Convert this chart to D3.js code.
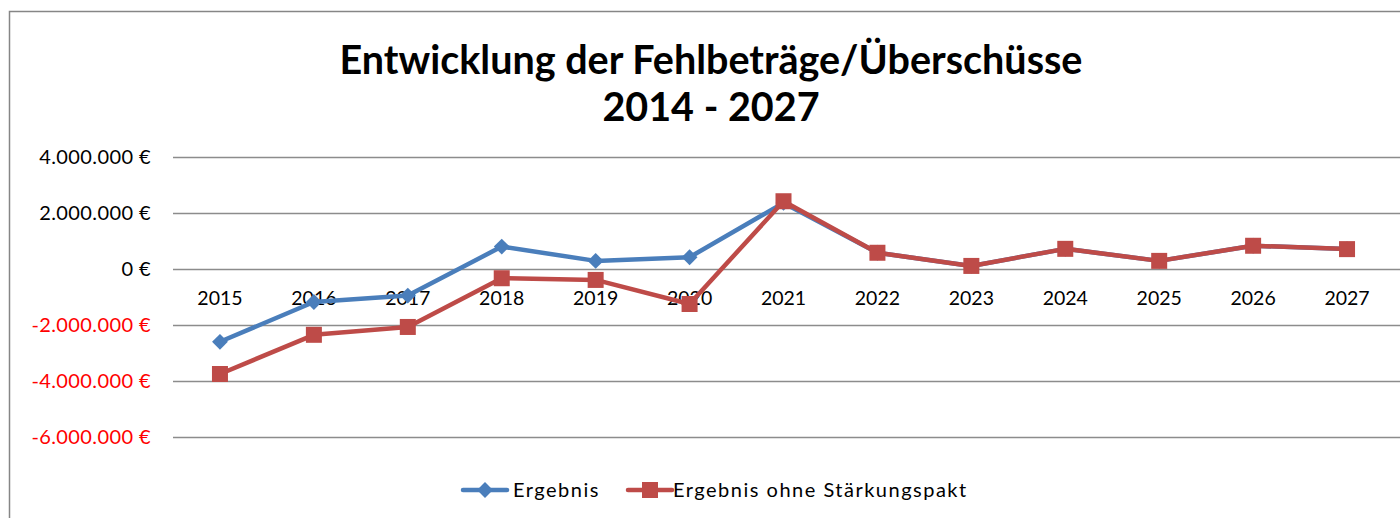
<!DOCTYPE html>
<html>
<head>
<meta charset="utf-8">
<script src="https://cdn.jsdelivr.net/npm/d3@7"></script>
<style>
  html, body { margin: 0; padding: 0; background: #fff; overflow: hidden; }
  svg { display: block; }
  text { font-family: Lato, "Open Sans", sans-serif; }
</style>
</head>
<body>
<div id="chart"></div>
<script>
// chart data
const years = ["2015", "2016", "2017", "2018", "2019", "2020", "2021", "2022", "2023", "2024", "2025", "2026", "2027"];
const ergebnis = [-2600000, -1180000, -950000, 800000, 290000, 420000, 2360000, 580000, 110000, 720000, 290000, 830000, 710000];
const ohneStaerkungspakt = [-3750000, -2350000, -2070000, -330000, -390000, -1250000, 2420000, 580000, 110000, 720000, 290000, 830000, 710000];
const yTicks = [-6000000, -4000000, -2000000, 0, 2000000, 4000000];
const seriesNames = ["Ergebnis", "Ergebnis ohne Stärkungspakt"];

const width = 1400, height = 518;
const plot = {left: 173, right: 1394, top: 157, bottom: 437};

const svg = d3.select("#chart").append("svg")
  .attr("width", width)
  .attr("height", height);

// outer frame (chart area border), right and bottom edge fall outside the picture
svg.append("rect")
  .attr("x", 9.5).attr("y", 11.5)
  .attr("width", 1400).attr("height", 520)
  .attr("fill", "#fff")
  .attr("stroke", "#868686")
  .attr("stroke-width", 1.5);

// title
const title = svg.append("text")
  .attr("text-anchor", "middle")
  .attr("font-weight", "bold")
  .attr("font-size", 39.5)
  .attr("fill", "#000");
title.append("tspan").attr("x", 711).attr("y", 74).text("Entwicklung der Fehlbeträge/Überschüsse");
title.append("tspan").attr("x", 711).attr("y", 121).text("2014 - 2027");

// scales
const x = d3.scaleBand().domain(years).range([plot.left, plot.right]);
const y = d3.scaleLinear().domain([-6000000, 4000000]).range([plot.bottom, plot.top]);

const de = d3.formatLocale({decimal: ",", thousands: ".", grouping: [3], currency: ["", " €"], minus: "-"});
const fmt = v => de.format(",.0f")(v) + " €";

// gridlines (run to the right edge)
svg.append("g")
  .attr("transform", "translate(" + plot.left + ",0)")
  .call(d3.axisRight(y).tickValues(yTicks).tickSize(width - plot.left).tickFormat(""))
  .call(g => g.select(".domain").remove())
  .call(g => g.selectAll("line").attr("stroke", "#8c8c8c").attr("stroke-width", 1.5));

// y axis labels
const yAxis = svg.append("g")
  .attr("transform", "translate(" + (plot.left - 22) + ",0)")
  .call(d3.axisLeft(y).tickValues(yTicks).tickSize(0).tickPadding(0).tickFormat(fmt));
yAxis.select(".domain").remove();
yAxis.selectAll("text")
  .attr("font-size", 20)
  .attr("letter-spacing", 0.4)
  .attr("font-family", "Lato, 'Open Sans', sans-serif")
  .attr("fill", d => d < 0 ? "#ff0000" : "#000");

// x axis labels below zero line
const xAxis = svg.append("g")
  .attr("transform", "translate(0," + y(0) + ")")
  .call(d3.axisBottom(x).tickSize(0).tickPadding(22));
xAxis.select(".domain").remove();
xAxis.selectAll("text")
  .attr("font-size", 19.5)
  .attr("font-family", "Lato, 'Open Sans', sans-serif")
  .attr("fill", "#000");

const line = d3.line()
  .x((d, i) => x(years[i]) + x.bandwidth() / 2)
  .y(d => y(d));

const blue = "#4a7ebb", red = "#be4b48";

// Ergebnis line + diamonds
svg.append("path")
  .datum(ergebnis)
  .attr("fill", "none")
  .attr("stroke", blue)
  .attr("stroke-width", 4.5)
  .attr("stroke-linejoin", "round")
  .attr("d", line);
svg.append("g").selectAll("path")
  .data(ergebnis)
  .join("path")
  .attr("transform", (d, i) => "translate(" + (x(years[i]) + x.bandwidth() / 2) + "," + y(d) + ")")
  .attr("d", d3.symbol(d3.symbolDiamond2, 160))
  .attr("fill", blue);

// Ergebnis ohne Staerkungspakt line + squares
svg.append("path")
  .datum(ohneStaerkungspakt)
  .attr("fill", "none")
  .attr("stroke", red)
  .attr("stroke-width", 4.5)
  .attr("stroke-linejoin", "round")
  .attr("d", line);
svg.append("g").selectAll("rect")
  .data(ohneStaerkungspakt)
  .join("rect")
  .attr("x", (d, i) => x(years[i]) + x.bandwidth() / 2 - 8)
  .attr("y", d => y(d) - 8)
  .attr("width", 16).attr("height", 16)
  .attr("fill", red);

// legend
const legendY = 490;
const legend = [
  {name: seriesNames[0], color: blue, x0: 463, type: "diamond", tx: 513},
  {name: seriesNames[1], color: red, x0: 628, type: "square", tx: 673}
];
legend.forEach(l => {
  const g = svg.append("g");
  g.append("line")
    .attr("x1", l.x0).attr("x2", l.x0 + 44)
    .attr("y1", legendY).attr("y2", legendY)
    .attr("stroke", l.color).attr("stroke-width", 4.5)
    .attr("stroke-linecap", "round");
  if (l.type === "diamond") {
    g.append("path")
      .attr("transform", "translate(" + (l.x0 + 22) + "," + legendY + ")")
      .attr("d", d3.symbol(d3.symbolDiamond2, 160))
      .attr("fill", l.color);
  } else {
    g.append("rect")
      .attr("x", l.x0 + 22 - 8).attr("y", legendY - 8)
      .attr("width", 16).attr("height", 16)
      .attr("fill", l.color);
  }
  g.append("text")
    .attr("x", l.tx).attr("y", legendY + 7)
    .attr("font-size", 20)
    .attr("letter-spacing", 1.5)
    .attr("fill", "#000")
    .text(l.name);
});
</script>
</body>
</html>
